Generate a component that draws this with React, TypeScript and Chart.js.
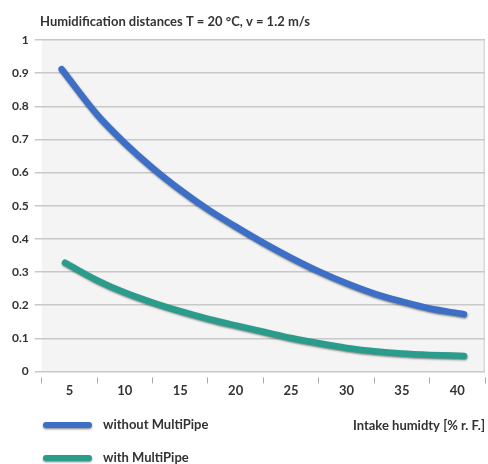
import React, { useEffect, useRef } from "react";
import { Chart, registerables } from "chart.js";

Chart.register(...registerables);

const titleText = "Humidification distances T = 20 °C, v = 1.2 m/s";
const xAxisTitle = "Intake humidty [% r. F.]";
const seriesNames = ["without MultiPipe", "with MultiPipe"];
const seriesColors = ["#3d6fc6", "#2a9c8b"];

const xWithout = [4.3, 7.5, 10, 12.5, 15, 17.5, 20, 22.5, 25, 27.5, 30, 32.5, 35, 37.5, 40, 40.6];
const yWithout = [0.912, 0.775, 0.689, 0.614, 0.548, 0.489, 0.437, 0.388, 0.343, 0.302, 0.266, 0.235, 0.211, 0.19, 0.176, 0.173];
const xWith = [4.6, 7.5, 10, 12.5, 15, 17.5, 20, 22.5, 25, 27.5, 30, 32.5, 35, 37.5, 40.6];
const yWith = [0.328, 0.275, 0.238, 0.208, 0.182, 0.159, 0.139, 0.12, 0.101, 0.085, 0.071, 0.061, 0.054, 0.05, 0.047];

const xTickValues = [5, 10, 15, 20, 25, 30, 35, 40];
const yTickValues = [0, 0.1, 0.2, 0.3, 0.4, 0.5, 0.6, 0.7, 0.8, 0.9, 1];
const yTickLabels = ["0", "0.1", "0.2", "0.3", "0.4", "0.5", "0.6", "0.7", "0.8", "0.9", "1"];

const FONT = "Lato, 'Open Sans', sans-serif";
const TEXT = "#333333";

const bgPlugin = {
  id: "bgPlugin",
  beforeDraw(chart: any) {
    const { ctx, chartArea } = chart;
    ctx.save();
    ctx.fillStyle = "#f4f4f4";
    ctx.fillRect(chartArea.left, chartArea.top, chartArea.right - chartArea.left, chartArea.bottom - chartArea.top);
    ctx.strokeStyle = "#d9d9d9";
    ctx.lineWidth = 1.5;
    ctx.beginPath();
    ctx.moveTo(chartArea.right - 0.75, chartArea.top);
    ctx.lineTo(chartArea.right - 0.75, chartArea.bottom);
    ctx.stroke();
    ctx.restore();
  },
};

const shadowPlugin = {
  id: "shadowPlugin",
  beforeDatasetDraw(chart: any) {
    const ctx = chart.ctx;
    ctx.save();
    ctx.shadowColor = "rgba(0,0,0,0.45)";
    ctx.shadowBlur = 2;
    ctx.shadowOffsetX = 0.5;
    ctx.shadowOffsetY = 1.2;
  },
  afterDatasetDraw(chart: any) {
    chart.ctx.restore();
  },
};

const textPlugin = {
  id: "textPlugin",
  afterDraw(chart: any) {
    const ctx = chart.ctx;
    ctx.save();
    ctx.fillStyle = TEXT;
    ctx.textBaseline = "alphabetic";
    ctx.font = `bold 13px ${FONT}`;
    ctx.textAlign = "left";
    ctx.fillText(titleText, 40, 26, 270);

    ctx.textAlign = "right";
    ctx.fillText(xAxisTitle, 485, 430, 137);

    const rows = [425, 458];
    ctx.textAlign = "left";
    seriesNames.forEach((name, i) => {
      const y = rows[i];
      ctx.save();
      ctx.strokeStyle = seriesColors[i];
      ctx.lineWidth = 6;
      ctx.lineCap = "round";
      ctx.shadowColor = "rgba(0,0,0,0.45)";
      ctx.shadowBlur = 2;
      ctx.shadowOffsetY = 1.2;
      ctx.beginPath();
      ctx.moveTo(46, y);
      ctx.lineTo(89, y);
      ctx.stroke();
      ctx.restore();
      ctx.fillStyle = TEXT;
      ctx.fillText(name, 103, y + 4, i === 0 ? 106 : 86);
    });
    ctx.restore();
  },
};

export default function App() {
  const ref = useRef<HTMLCanvasElement | null>(null);

  useEffect(() => {
    if (!ref.current) return;
    const lineStyle = (i: number) => ({
      borderColor: seriesColors[i],
      backgroundColor: seriesColors[i],
      borderWidth: 6.5,
      borderCapStyle: "round",
      borderJoinStyle: "round",
      pointRadius: 0,
      cubicInterpolationMode: "monotone",
    });
    const chart = new Chart(ref.current, {
      type: "line",
      data: {
        datasets: [
          {
            label: seriesNames[0],
            data: xWithout.map((x, i) => ({ x, y: yWithout[i] })),
            ...lineStyle(0),
          },
          {
            label: seriesNames[1],
            data: xWith.map((x, i) => ({ x, y: yWith[i] })),
            ...lineStyle(1),
          },
        ],
      },
      options: {
        animation: false,
        responsive: false,
        devicePixelRatio: 1,
        layout: { padding: { top: 40, right: 3, left: 0, bottom: 0 } },
        plugins: {
          legend: { display: false },
          title: { display: false },
          tooltip: { enabled: false },
        },
        scales: {
          x: {
            type: "linear",
            min: 2.5,
            max: 42.5,
            afterBuildTicks: (scale: any) => {
              scale.ticks = xTickValues.map((v) => ({ value: v }));
            },
            afterFit: (scale: any) => {
              scale.height = 92.5;
            },
            border: { display: false },
            grid: {
              offset: true,
              drawOnChartArea: false,
              drawTicks: true,
              tickLength: 12,
              tickColor: "#a8a8a8",
              tickWidth: 1,
              tickBorderDash: [0, 5.5, 7, 30],
            },
            ticks: {
              padding: 0,
              color: TEXT,
              font: { family: FONT, size: 13, weight: "bold" },
              callback: (v: any) => String(v),
            },
          },
          y: {
            type: "linear",
            min: 0,
            max: 1,
            afterBuildTicks: (scale: any) => {
              scale.ticks = yTickValues.map((v) => ({ value: v }));
            },
            afterFit: (scale: any) => {
              scale.width = 41.7;
            },
            border: { display: false },
            grid: {
              color: "#c8c8c8",
              lineWidth: 1.5,
              drawTicks: true,
              tickLength: 7,
              tickColor: "#c8c8c8",
            },
            ticks: {
              padding: 6,
              color: TEXT,
              font: { family: FONT, size: 12, weight: "bold" },
              callback: (v: any) => {
                const idx = yTickValues.findIndex((t) => Math.abs(t - v) < 1e-9);
                return idx >= 0 ? yTickLabels[idx] : "";
              },
            },
          },
        },
      },
      plugins: [bgPlugin, shadowPlugin, textPlugin],
    } as any);
    return () => chart.destroy();
  }, []);

  return (
    <div style={{ position: "absolute", left: 0, top: 0, width: 488, height: 464, background: "#ffffff" }}>
      <canvas ref={ref} width={488} height={464} style={{ display: "block" }} />
    </div>
  );
}
